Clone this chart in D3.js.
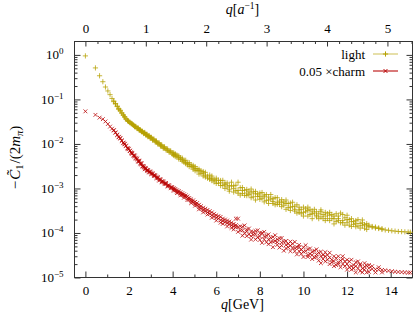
<!DOCTYPE html>
<html><head><meta charset="utf-8">
<script src="https://cdn.jsdelivr.net/npm/d3@7"></script>
<style>
body{margin:0;background:#fff}
svg{display:block}
text{font-family:"Liberation Serif","DejaVu Serif",serif;fill:#000}
</style>
</head><body>
<script>
// ---- data ----
const qGeV = [0,0.46,0.65,0.80,0.92,1.03,1.13,1.22,1.30,1.38,1.46,1.53,1.60,1.67,1.74,1.80,1.86,1.93,1.98,
2.04,2.10,2.15,2.21,2.26,2.31,2.37,2.42,2.47,2.52,2.57,2.62,2.67,2.72,2.77,2.82,2.87,2.92,2.97,
3.02,3.08,3.14,3.20,3.26,3.32,3.38,3.44,3.50,3.57,3.63,3.70,3.77,3.84,3.91,3.98,
4.05,4.12,4.20,4.28,4.36,4.44,4.52,4.60,4.68,4.76,4.85,4.94,
5.03,5.12,5.21,5.30,5.40,5.50,5.60,5.70,5.80,5.90,6.00,6.10,6.20,6.30,6.40,6.50,6.60,6.70,6.80,6.90,
7.00,7.10,7.20,7.30,7.40,7.50,7.60,7.70,7.80,7.90,8.00,8.10,8.20,8.30,8.40,8.50,8.60,8.70,8.80,8.90,
9.00,9.10,9.20,9.30,9.40,9.50,9.60,9.70,9.80,9.90,10.0,10.1,10.2,10.3,10.4,10.5,10.6,10.7,10.8,10.9,
11.0,11.1,11.2,11.3,11.4,11.5,11.6,11.7,11.8,11.9,12.0,12.1,12.2,12.3,12.4,12.5,12.6,12.7,12.8,12.9,
13.0,13.15,13.3,13.45,13.6,13.75,13.9,14.05,14.2,14.35,14.5,14.65,14.8,14.9];

const lightValues = [[0.95],[0.51],[0.34],[0.25],[0.19],[0.155],[0.128],[0.105],[0.089,0.092],[0.079,0.081],
[0.069,0.071],[0.062,0.060],[0.055,0.057],[0.049,0.050],[0.044,0.045],[0.040,0.041],[0.036,0.037],[0.034,0.033],[0.032,0.0325],
[0.030,0.031],[0.029,0.0285],[0.0275,0.028],[0.026,0.0268],[0.025,0.0243],[0.024,0.0248],[0.023,0.0222],[0.022,0.0228],
[0.021,0.0203],[0.020,0.0207],[0.0195,0.0188],[0.0186,0.0193],[0.0178,0.0171],[0.0174,0.0181],[0.0166,0.0159],[0.0158,0.0165],
[0.0151,0.0145],[0.0148,0.0154],[0.0141,0.0135],
[0.0135,0.0141],[0.0129,0.0122],[0.0123,0.0129],[0.0117,0.0111],[0.0110,0.0116],[0.0105,0.0100],[0.0100,0.0106],[0.0095,0.0090],
[0.0090,0.0095],[0.0085,0.0080],[0.0081,0.0086],[0.0078,0.0073],[0.0072,0.0077],[0.0069,0.0065],[0.0066,0.0070],[0.0063,0.0059],
[0.0059,0.0063,0.0055],[0.0057,0.0052,0.0060],[0.0051,0.0056],[0.0050,0.0046,0.0054],[0.0045,0.0049],[0.0045,0.0041,0.0048],
[0.0042,0.0039],[0.0038,0.0043,0.0036],[0.0037,0.0034],[0.0035,0.0031,0.0038],[0.0031,0.0034],[0.0030,0.0027,0.0033],
[0.0028,0.0025,0.0031],[0.0025,0.0028],[0.0025,0.0021,0.0027],[0.0022,0.0025],[0.0022,0.0019,0.0024],[0.0020,0.0023,0.0018],
[0.0019,0.0017],[0.0017,0.0020,0.0016],[0.0017,0.0015,0.0019],[0.0016,0.0014],
[0.00152,0.0013,0.0017],[0.00131,0.00154],[0.00151,0.00116,0.00134],[0.00116,0.00152],[0.00122,0.001,0.00132],[0.00133,0.00108],
[0.00096,0.00116,0.00087],[0.00113,0.00138],[0.00083,0.00115,0.00099],[0.00118,0.00089],
[0.0009,0.00138,0.00078],[0.00104,0.00071],[0.0009,0.00077,0.00105],[0.0007,0.00091],[0.00079,0.00095,0.00069],[0.00087,0.00073],
[0.00097,0.00062,0.00079],[0.00065,0.00084],[0.00076,0.00055,0.00086],[0.00066,0.00075],
[0.00079,0.00057,0.00067],[0.0006,0.00081],[0.00065,0.0005,0.00071],[0.00054,0.00073],[0.00064,0.00055,0.00046],[0.00073,0.00058],
[0.00046,0.00059,0.00051],[0.00062,0.00043],[0.00049,0.00062,0.00044],[0.00052,0.00044],
[0.00056,0.00039,0.00048],[0.00042,0.0005],[0.00034,0.00046,0.00055],[0.00046,0.00037],[0.00047,0.00038,0.00032],[0.00039,0.00049],
[0.00031,0.0004,0.00034],[0.00043,0.00028],[0.00033,0.00038,0.00029],[0.00034,0.00027],
[0.00029,0.00038,0.00024],[0.00035,0.0003],[0.00024,0.00032,0.00038],[0.00034,0.00026],[0.00027,0.00021,0.00031],[0.00034,0.00028],
[0.00023,0.0003,0.00025],[0.00027,0.00021],[0.0003,0.00023,0.00033],[0.00021,0.00026],
[0.00024,0.00029,0.00019],[0.00021,0.00027],[0.00025,0.00019,0.00029],[0.00021,0.00026],[0.00024,0.00016,0.00021],[0.00027,0.00018],
[0.00019,0.00021,0.00024],[0.00028,0.00017],[0.00019,0.00026,0.00017],[0.00022,0.00015],
[0.00017,0.00025,0.0002],[0.00015,0.0002],[0.00018,0.00014,0.00021],[0.000156,0.00018],[0.00019,0.000138,0.000164],[0.000144,0.0002],
[0.000164,0.000129],[0.000146,0.000196,0.000169],[0.000128,0.000155],[0.000144,0.000162,0.00012],
[0.000138,0.00015],[0.000135,0.00014],[0.000129,0.000136],[0.000126,0.00013],[0.00012,0.000125],[0.000117],[0.000115],[0.000112],
[0.00011],[0.000108],[0.000107],[0.000106],[0.000105],[0.000104]];

const charmValues = [[0.054],[0.045],[0.039],[0.036],[0.032],[0.028],[0.0245],[0.022],[0.020,0.0205],[0.0178,0.0182],
[0.0158,0.0162],[0.0145,0.0141],[0.0132,0.0136],[0.0117,0.0120],[0.0107,0.0104],[0.0098,0.0101],[0.0089,0.0092],[0.0081,0.0079],[0.0076,0.0078],
[0.0069,0.0071],[0.0065,0.0062],[0.0060,0.0063],[0.0056,0.0054],[0.0052,0.0055],[0.0049,0.0047],[0.0045,0.0047],[0.0042,0.0040],
[0.0040,0.0042],[0.0037,0.0035],[0.0035,0.0037],[0.0032,0.0031],[0.0030,0.0032],[0.0029,0.0027],[0.00275,0.0029],[0.0026,0.0025],
[0.0025,0.0026],[0.0024,0.0023],[0.0023,0.0024],
[0.0022,0.0021],[0.0021,0.0022],[0.0020,0.0019],[0.0019,0.0020],[0.0018,0.0017],[0.0017,0.0018],[0.0016,0.0015],[0.00155,0.00163],
[0.00145,0.00138],[0.00138,0.00146],[0.00132,0.00125],[0.00126,0.00133],[0.00117,0.00111],[0.00112,0.00119],[0.00107,0.00101],[0.00102,0.00108],
[0.00095,0.00089,0.00101],[0.00091,0.00097],[0.00085,0.00079,0.00091],[0.00081,0.00087],[0.00076,0.00070,0.00082],[0.00072,0.00078],
[0.00068,0.00062,0.00074],[0.00065,0.00070],[0.00060,0.00055,0.00066],[0.00056,0.00061],[0.00052,0.00047,0.00057],[0.00049,0.00054],
[0.00045,0.00041,0.00050],[0.00042,0.00047],[0.00038,0.00034,0.00043],[0.000355,0.00040],[0.00033,0.00029,0.00037],[0.00031,0.00035],
[0.00029,0.00026,0.00033],[0.00027,0.00031],[0.00025,0.00022,0.00029],[0.000234,0.00027],[0.00022,0.00019,0.00025],[0.00021,0.00024],
[0.000195,0.00017,0.00023],[0.000186,0.00021,0.00016],[0.000174,0.00020],[0.000166,0.00014,0.00019],[0.000158,0.00018],[0.000148,0.00013,0.00017],
[0.000141,0.00016,0.00012],[0.000135,0.00021,0.00015],
[0.000135,0.000106,0.00021],[0.000114,0.000141],[0.000138,0.000087,0.000115],[0.000099,0.000148],[0.000109,0.000085,0.00012],[0.000126,0.000093],
[0.000085,0.000107,0.000071],[0.000105,0.000091],[0.000072,0.000111,0.000094],[0.000115,0.00008],
[0.000084,0.00007,0.000099],[0.0001,0.00006],[0.000084,0.000072,0.000106],[0.000062,0.000087],[0.000072,0.000093,0.000056],[0.000078,0.000062],
[0.000081,0.000064,0.000048],[0.000089,0.000066],[0.000054,0.000072,0.000062],[0.000076,0.000047],
[0.000061,0.000052,0.000077],[0.00004,0.000064],[0.000054,0.000066,0.000045],[0.000057,0.000048],[0.000039,0.000064,0.000052],[0.000046,0.000057],
[0.000063,0.000039,0.000046],[0.000048,0.000033],[0.000039,0.000054,0.000048],[0.000034,0.000042],
[0.000048,0.000038,0.000029],[0.000053,0.000039],[0.000032,0.000043,0.000029],[0.000045,0.000034],[0.000032,0.000038,0.000026],[0.00004,0.000028],
[0.000033,0.000043,0.000029],[0.000024,0.000036],[0.00003,0.000038,0.000021],[0.000032,0.000026],
[0.000037,0.000023,0.00003],[0.000025,0.000032],[0.00002,0.000028,0.000036],[0.000025,0.000022],[0.00003,0.000023,0.000018],[0.000027,0.000019],
[0.000022,0.00003,0.00002],[0.000024,0.000017],[0.000026,0.00002,0.00003],[0.000018,0.000023],
[0.00002,0.000025,0.000015],[0.000017,0.000023],[0.000025,0.000018,0.000015],[0.000019,0.000016],[0.000022,0.000013,0.000018],[0.000016,0.000023],
[0.000019,0.000014,0.00002],[0.000016,0.000013],[0.000021,0.000015,0.0000175],[0.000013,0.0000186],
[0.0000162,0.000019,0.0000134],[0.0000155,0.000018],[0.0000152,0.000013],[0.000015,0.000017],[0.0000148,0.000013],[0.0000145],[0.0000141],[0.0000138],
[0.0000135],[0.0000133],[0.0000132],[0.000013],[0.0000129],[0.0000129]];

const xTicksGeV = [0,2,4,6,8,10,12,14];
const xMinorGeV = [1,3,5,7,9,11,13];
const xTicksLattice = [0,1,2,3,4,5];
const yTickExponents = [0,-1,-2,-3,-4,-5];
const aInverseGeV = 2.77;          // q[GeV] = q[a^-1] * a^-1
const seriesNames = ["light", "0.05 ×charm"];
const seriesColors = ["#b5a000", "#b80000"];

// ---- layout ----
const W = 415, H = 317;
const L = 74.5, R = 412.5, T = 41.5, B = 277.5;

const svg = d3.select("body").append("svg").attr("width", W).attr("height", H);

const x = d3.scaleLinear().domain([-0.5, 15]).range([L, R]);
const x2 = d3.scaleLinear().domain([-0.5 / aInverseGeV, 15 / aInverseGeV]).range([L, R]);
const y = d3.scaleLog().domain([1e-5, 2]).range([B, T]);

const axisColor = "#333";
const fs = 13;

const yMinor = [];
for (let e = -5; e <= 0; e++) for (let k = 2; k <= 9; k++) { const v = k * Math.pow(10, e); if (v < 2) yMinor.push(v); }
const x2Minor = d3.range(0, 5.5, 0.2).filter(v => Math.abs(v - Math.round(v)) > 1e-6);

function styleAxis(g) {
  g.select(".domain").remove();
  g.selectAll("line").attr("stroke", axisColor).attr("stroke-width", 1);
  g.selectAll("text").remove();
}

// bottom
svg.append("g").attr("transform", `translate(0,${B})`)
  .call(d3.axisBottom(x).tickValues(xMinorGeV).tickSize(-3).tickFormat("")).call(styleAxis);
const gB = svg.append("g").attr("transform", `translate(0,${B})`)
  .call(d3.axisBottom(x).tickValues(xTicksGeV).tickSize(-6).tickFormat(""));
styleAxis(gB);
gB.selectAll(".tick").append("text").attr("y", 17).attr("text-anchor", "middle")
  .attr("font-size", fs).text(d => d);

// top (x2)
svg.append("g").attr("transform", `translate(0,${T})`)
  .call(d3.axisTop(x2).tickValues(x2Minor).tickSize(-2.5).tickFormat("")).call(styleAxis);
const gT = svg.append("g").attr("transform", `translate(0,${T})`)
  .call(d3.axisTop(x2).tickValues(xTicksLattice).tickSize(-5).tickFormat(""));
styleAxis(gT);
gT.selectAll(".tick").append("text").attr("y", -9).attr("text-anchor", "middle")
  .attr("font-size", fs).text(d => d);

// left
svg.append("g").attr("transform", `translate(${L},0)`)
  .call(d3.axisLeft(y).tickValues(yMinor).tickSize(-3).tickFormat("")).call(styleAxis);
const gL = svg.append("g").attr("transform", `translate(${L},0)`)
  .call(d3.axisLeft(y).tickValues(yTickExponents.map(e => Math.pow(10, e))).tickSize(-6).tickFormat(""));
styleAxis(gL);
gL.selectAll(".tick").each(function(d) {
  const e = Math.round(Math.log10(d));
  const t = d3.select(this).append("text").attr("x", -11).attr("y", 4).attr("text-anchor", "end").attr("font-size", fs);
  t.append("tspan").text("10");
  t.append("tspan").attr("dy", -5).attr("font-size", 9).text(e === 0 ? "0" : "\u2212" + (-e));
});

// right (mirror)
svg.append("g").attr("transform", `translate(${R},0)`)
  .call(d3.axisRight(y).tickValues(yMinor).tickSize(-3).tickFormat("")).call(styleAxis);
svg.append("g").attr("transform", `translate(${R},0)`)
  .call(d3.axisRight(y).tickValues(yTickExponents.map(e => Math.pow(10, e))).tickSize(-6).tickFormat("")).call(styleAxis);

// frame
svg.append("rect").attr("x", L).attr("y", T).attr("width", R - L).attr("height", B - T)
  .attr("fill", "none").attr("stroke", axisColor).attr("stroke-width", 1);

// axis titles
const tb = svg.append("text").attr("x", (L + R) / 2 - 1).attr("y", 309).attr("text-anchor", "middle").attr("font-size", 14);
tb.append("tspan").attr("font-style", "italic").text("q");
tb.append("tspan").text("[GeV]");

const tt = svg.append("text").attr("x", (L + R) / 2 - 1).attr("y", 14).attr("text-anchor", "middle").attr("font-size", 14);
tt.append("tspan").attr("font-style", "italic").text("q");
tt.append("tspan").text("[");
tt.append("tspan").attr("font-style", "italic").text("a");
tt.append("tspan").attr("dy", -5).attr("font-size", 9.5).text("\u22121");
tt.append("tspan").attr("dy", 5).text("]");

const ty = svg.append("text").attr("transform", `translate(20,${(T + B) / 2 - 2}) rotate(-90)`)
  .attr("text-anchor", "middle").attr("font-size", 15);
ty.append("tspan").text("\u2212");
ty.append("tspan").attr("font-style", "italic").attr("dx", 1).text("C\u0303");
ty.append("tspan").attr("dy", 3).attr("font-size", 10.5).text("1");
ty.append("tspan").attr("dy", -3).attr("dx", 1).text("/(2");
ty.append("tspan").attr("font-style", "italic").text("m");
ty.append("tspan").attr("dy", 3).attr("font-size", 10.5).attr("font-style", "italic").text("\u03c0");
ty.append("tspan").attr("dy", -3).text(")");

// ---- marks ----
function plusPath(s) { return `M${-s},0H${s}M0,${-s}V${s}`; }
function crossPath(s) { return `M${-s},${-s}L${s},${s}M${-s},${s}L${s},${-s}`; }

const lightPts = qGeV.flatMap((q, i) => lightValues[i].map(v => ({ q, v })));
const charmPts = qGeV.flatMap((q, i) => charmValues[i].map(v => ({ q, v })));

const plot = svg.append("g");
plot.selectAll("path.l").data(lightPts).join("path").attr("class", "l")
  .attr("transform", d => `translate(${x(d.q)},${y(d.v)})`)
  .attr("d", plusPath(2.6)).attr("stroke", seriesColors[0]).attr("stroke-opacity", 0.85)
  .attr("stroke-width", 0.9).attr("fill", "none");
plot.selectAll("path.c").data(charmPts).join("path").attr("class", "c")
  .attr("transform", d => `translate(${x(d.q)},${y(d.v)})`)
  .attr("d", crossPath(1.9)).attr("stroke", seriesColors[1]).attr("stroke-opacity", 0.85)
  .attr("stroke-width", 0.9).attr("fill", "none");

// ---- legend ----
const legY = [54, 71];
seriesNames.forEach((name, i) => {
  const g = svg.append("g");
  g.append("text").attr("x", 365).attr("y", legY[i] + 4.5).attr("text-anchor", "end").attr("font-size", fs).text(name);
  g.append("line").attr("x1", 373).attr("x2", 398).attr("y1", legY[i]).attr("y2", legY[i])
    .attr("stroke", seriesColors[i]).attr("stroke-opacity", i === 0 ? 0.45 : 0.7).attr("stroke-width", 1.5);
  g.append("path").attr("transform", `translate(385.5,${legY[i]})`)
    .attr("d", i === 0 ? plusPath(2.6) : crossPath(1.9)).attr("stroke", seriesColors[i]).attr("fill", "none");
});
</script>
</body></html>
